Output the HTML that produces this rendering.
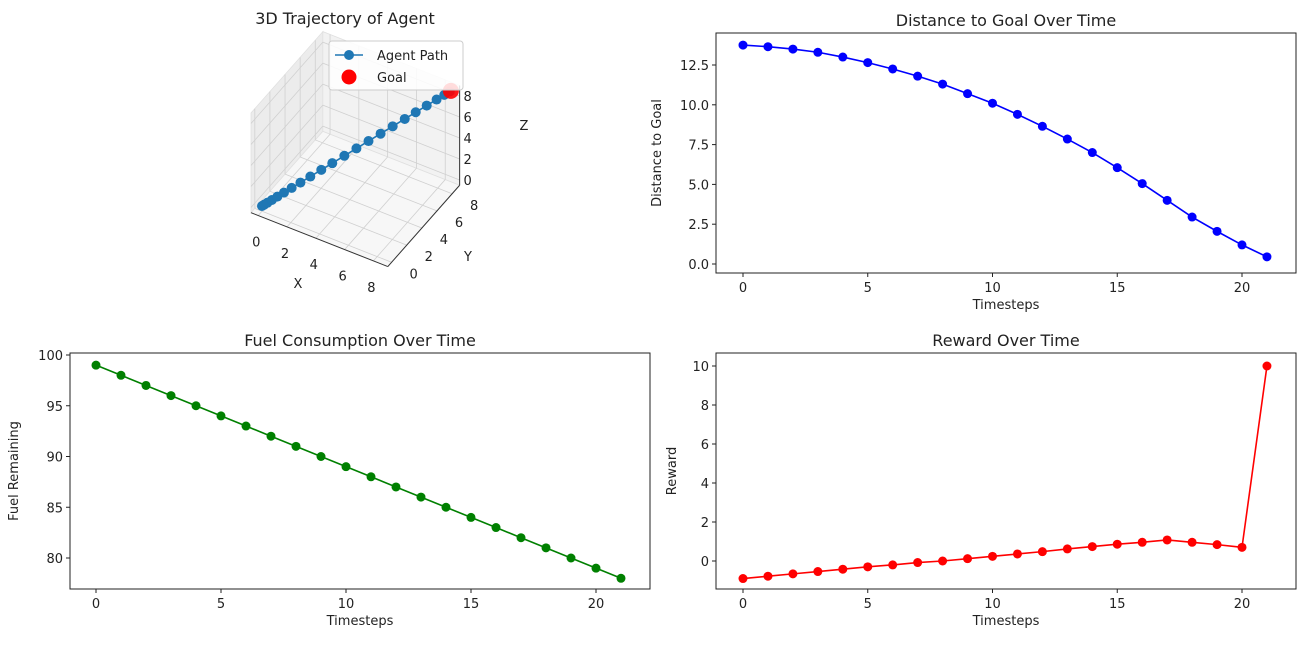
<!DOCTYPE html>
<html><head><meta charset="utf-8"><style>
body{margin:0;background:#fff;font-family:"DejaVu Sans","Liberation Sans",sans-serif}
svg text{font-family:"DejaVu Sans","Liberation Sans",sans-serif;fill:#222}
</style></head><body>
<svg id="fig" width="1303" height="644" xmlns="http://www.w3.org/2000/svg"></svg>
<script>
const timesteps=[0,1,2,3,4,5,6,7,8,9,10,11,12,13,14,15,16,17,18,19,20,21];
const distanceValues=[13.75,13.65,13.5,13.3,13.0,12.65,12.25,11.8,11.3,10.7,10.1,9.4,8.65,7.85,7.0,6.05,5.05,4.0,2.95,2.05,1.2,0.45];
const fuelValues=[99,98,97,96,95,94,93,92,91,90,89,88,87,86,85,84,83,82,81,80,79,78];
const rewardValues=[-0.9,-0.78,-0.66,-0.54,-0.42,-0.3,-0.2,-0.08,0.0,0.12,0.24,0.36,0.48,0.62,0.74,0.86,0.96,1.08,0.96,0.84,0.7,10];
const pathT=[0,0.1,0.25,0.45,0.7,1.0,1.35,1.75,2.2,2.7,3.2,3.75,4.3,4.85,5.4,5.95,6.5,7.0,7.5,7.95,8.3,8.55];
const goal=[8.6,8.6,8.6];
const xTicks=[0,5,10,15,20];
const distTicks=[0,2.5,5,7.5,10,12.5];
const fuelTicks=[80,85,90,95,100];
const rewardTicks=[0,2,4,6,8,10];
const ticks3d=[0,2,4,6,8];

const svg=document.getElementById('fig');
const NS='http://www.w3.org/2000/svg';
function el(tag,attrs,parent){const e=document.createElementNS(NS,tag);for(const k in attrs)e.setAttribute(k,attrs[k]);(parent||svg).appendChild(e);return e;}
function txt(s,x,y,size,anchor,parent,extra){const t=el('text',Object.assign({x:x,y:y,'font-size':size,'text-anchor':anchor||'middle'},extra||{}),parent);t.textContent=s;return t;}

function chart2d(cfg){
  const g=el('g',{});
  
  
  const sx=v=>cfg.x0px+(v-0)*cfg.xs;
  const sy=v=>cfg.y0px-(v-cfg.yref)*cfg.ys;
  el('rect',{x:cfg.L,y:cfg.T,width:cfg.R-cfg.L,height:cfg.B-cfg.T,fill:'#fff',stroke:'#222','stroke-width':1},g);
  xTicks.forEach(v=>{el('line',{x1:sx(v),x2:sx(v),y1:cfg.B,y2:cfg.B+4,stroke:'#222'},g);
    const t=txt(String(v),sx(v),cfg.B+19,13,'middle',g);});
  cfg.yTicks.forEach(v=>{el('line',{x1:cfg.L-4,x2:cfg.L,y1:sy(v),y2:sy(v),stroke:'#222'},g);
    const t=txt(cfg.fmt(v),cfg.L-7,sy(v)+5,13,'end',g);});
  const tt=txt(cfg.title,(cfg.L+cfg.R)/2,cfg.T-7,16,'middle',g);
  const xl=txt('Timesteps',(cfg.L+cfg.R)/2,cfg.B+36,13,'middle',g);
  const yx=cfg.L-cfg.ylOff, yy=(cfg.T+cfg.B)/2;
  const yl=txt(cfg.ylabel,yx,yy,13,'middle',g,{transform:`rotate(-90 ${yx} ${yy})`});
  const pts=timesteps.map((t,i)=>sx(t)+','+sy(cfg.vals[i])).join(' ');
  const ln=el('polyline',{points:pts,fill:'none',stroke:cfg.color,'stroke-width':1.6},g);
  
  timesteps.forEach((t,i)=>{const c=el('circle',{cx:sx(t),cy:sy(cfg.vals[i]),r:4.5,fill:cfg.color},g);
    });
}
chart2d({name:'distance-chart',L:716,R:1296,T:33,B:273,x0px:743,xs:24.95,y0px:264,yref:0,ys:15.92,yTicks:distTicks,fmt:v=>v.toFixed(1),title:'Distance to Goal Over Time',ylabel:'Distance to Goal',vals:distanceValues,color:'#0000ff',ylOff:55});
chart2d({name:'fuel-chart',L:70,R:650,T:353,B:589,x0px:96,xs:25,y0px:558,yref:80,ys:10.15,yTicks:fuelTicks,fmt:v=>String(v),title:'Fuel Consumption Over Time',ylabel:'Fuel Remaining',vals:fuelValues,color:'#008000',ylOff:52});
chart2d({name:'reward-chart',L:716,R:1296,T:353,B:589,x0px:743,xs:24.95,y0px:561,yref:0,ys:19.5,yTicks:rewardTicks,fmt:v=>String(v),title:'Reward Over Time',ylabel:'Reward',vals:rewardValues,color:'#ff0000',ylOff:40});

// 3D
const g3=el('g',{});
const O=[262,206],ex=[14.4,5.67],ey=[7.56,-8.56],ez=[0,-10.5],mn=-0.5,mx=9;
function P(x,y,z){return [O[0]+x*ex[0]+y*ey[0]+z*ez[0],O[1]+x*ex[1]+y*ey[1]+z*ez[1]];}
function poly(arr,fill){return el('polygon',{points:arr.map(p=>p.join(',')).join(' '),fill:fill,stroke:'#e0e0e0','stroke-width':0.8},g3);}
poly([P(mn,mn,mn),P(mn,mx,mn),P(mn,mx,mx),P(mn,mn,mx)],'#ececec');
poly([P(mn,mx,mn),P(mx,mx,mn),P(mx,mx,mx),P(mn,mx,mx)],'#f2f2f2');
poly([P(mn,mn,mn),P(mx,mn,mn),P(mx,mx,mn),P(mn,mx,mn)],'#f7f7f7');
function L3(a,b,st,w){const p=P(...a),q=P(...b);return el('line',{x1:p[0],y1:p[1],x2:q[0],y2:q[1],stroke:st,'stroke-width':w||0.8},g3);}
ticks3d.forEach(v=>{
  L3([v,mn,mn],[v,mx,mn],'#d0d0d0');L3([v,mx,mn],[v,mx,mx],'#d0d0d0');
  L3([mn,v,mn],[mx,v,mn],'#d0d0d0');L3([mn,v,mn],[mn,v,mx],'#d0d0d0');
  L3([mn,mn,v],[mn,mx,v],'#d0d0d0');L3([mn,mx,v],[mx,mx,v],'#d0d0d0');
});
L3([mn,mn,mn],[mx,mn,mn],'#333',1);L3([mx,mn,mn],[mx,mx,mn],'#333',1);L3([mx,mx,mn],[mx,mx,mx],'#333',1);
ticks3d.forEach(v=>{
  let p=P(v,mn,mn);const a=txt(String(v),p[0]-2,p[1]+31,13,'middle',g3);
  p=P(mx,v,mn);const b=txt(String(v),p[0]+22,p[1]+16,13,'middle',g3);
  p=P(mx,mx,v);const c=txt(String(v),p[0]+8,p[1]+5,13,'middle',g3);
});
let t=txt('X',298,288,13,'middle',g3);
t=txt('Y',468,261,13,'middle',g3);
t=txt('Z',524,130,13,'middle',g3);
t=txt('3D Trajectory of Agent',345,24,16,'middle',g3);
const pp=pathT.map(v=>P(v,v,v));
const pl=el('polyline',{points:pp.map(p=>p.join(',')).join(' '),fill:'none',stroke:'#1f77b4','stroke-width':1.6},g3);

pp.forEach(p=>{const c=el('circle',{cx:p[0],cy:p[1],r:5,fill:'#1f77b4'},g3);});
const gp=P(...goal);const gc=el('circle',{cx:gp[0],cy:gp[1],r:8,fill:'#ff0000','fill-opacity':0.9},g3);

// legend
const lg=el('g',{},g3);
el('rect',{x:329,y:41,width:134,height:49,rx:3,fill:'#fff','fill-opacity':0.85,stroke:'#ccc'},lg);
el('line',{x1:335,x2:363,y1:55,y2:55,stroke:'#1f77b4','stroke-width':1.6},lg);
el('circle',{cx:349,cy:55,r:5,fill:'#1f77b4'},lg);
t=txt('Agent Path',377,60,13,'start',lg);
el('circle',{cx:349,cy:77,r:7.5,fill:'#ff0000'},lg);
t=txt('Goal',377,82,13,'start',lg);
</script>
</body></html>
